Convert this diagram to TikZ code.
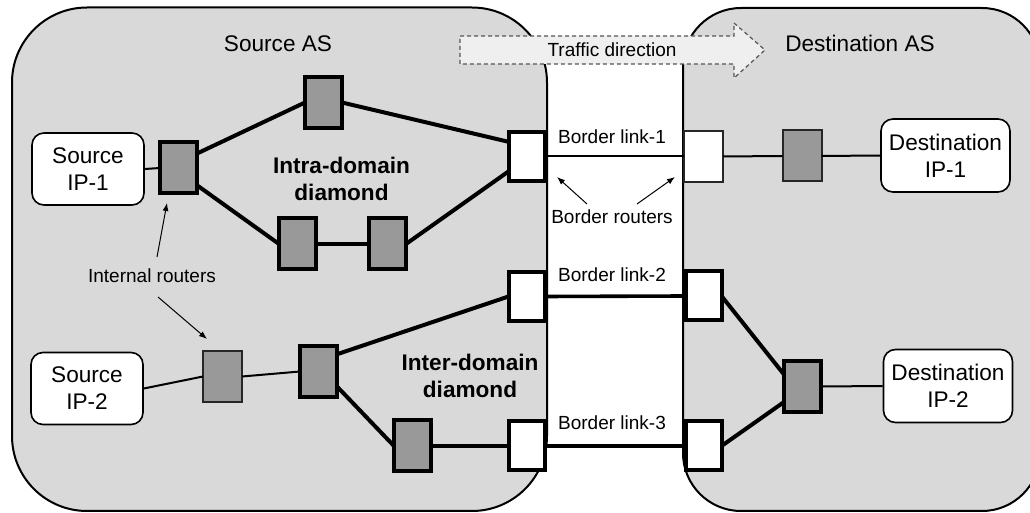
\documentclass[tikz,border=0pt]{standalone}
\usepackage{fontspec}
\setmainfont{Liberation Sans}
\usetikzlibrary{arrows.meta}
\definecolor{asfill}{HTML}{D9D9D9}
\definecolor{rtrfill}{HTML}{999999}
\definecolor{arrowfill}{HTML}{EFEFEF}
\definecolor{dashgray}{HTML}{555555}
\newcommand\biglbl{\fontsize{11.3}{13.5}\selectfont}
\newcommand\smalllbl{\fontsize{9.5}{11}\selectfont}

\begin{document}
\begin{tikzpicture}[x=0.5pt,y=-0.5pt,
  asbox/.style={fill=asfill,draw=black,line width=1pt},
  rtr/.style={rectangle,inner sep=0pt,outer sep=0pt},
  core/.style={rtr,fill=rtrfill,draw=black,line width=2pt,minimum width=18.5pt,minimum height=25.5pt},
  corethin/.style={rtr,fill=rtrfill,draw=black!85,line width=1pt,minimum width=19.5pt,minimum height=25.5pt},
  brdr/.style={rtr,fill=white,draw=black,line width=2pt,minimum width=18pt,minimum height=24.5pt},
  brdrthin/.style={rtr,fill=white,draw=black!85,line width=1pt,minimum width=19.5pt,minimum height=25.5pt},
  ipbox/.style={rectangle,rounded corners=6pt,draw=black,line width=0.8pt,fill=white,
    align=center,inner sep=0pt,font=\biglbl},
  srcip/.style={ipbox,minimum width=56pt,minimum height=36pt},
  dstip/.style={ipbox,minimum width=64.5pt,minimum height=36.5pt},
  title/.style={font=\biglbl,inner sep=1pt},
  note/.style={font=\smalllbl,inner sep=1pt},
  boldnote/.style={font=\biglbl\bfseries,align=center,inner sep=1pt},
  thinlink/.style={line width=1pt},
  midlink/.style={line width=1.8pt},
  thicklink/.style={line width=2pt},
  ptr/.style={line width=0.5pt,-{Latex[length=4pt,width=3pt]}},
  trafficarrow/.style={fill=arrowfill,draw=dashgray,line width=0.6pt,dash pattern=on 2pt off 1.5pt}
]
\useasboundingbox (0,0) rectangle (1030,513);
\clip (0,0) rectangle (1030,513);

% the two autonomous systems
\draw[asbox,rounded corners=37.5pt] (12,7.5) rectangle (547,511);
\draw[asbox,rounded corners=29pt] (683,8) rectangle (1040,511);

% traffic direction arrow
\draw[trafficarrow] (460,36) -- (734,36) -- (734,23) -- (765,50) -- (734,78) -- (734,64) -- (460,64) -- cycle;
\node[note] (traffic) at (612,50) {Traffic direction};

% titles
\node[title] (srcas) at (278,44) {Source AS};
\node[title] (dstas) at (860,43) {Destination AS};

% end hosts
\node[srcip] (sip1) at (88,169) {Source\\IP-1};
\node[srcip] (sip2) at (87,388.5) {Source\\IP-2};
\node[dstip] (dip1) at (945.5,155.5) {Destination\\IP-1};
\node[dstip] (dip2) at (948,386) {Destination\\IP-2};

% routers of the source AS
\node[core] (r1) at (178.5,168) {};
\node[core] (r2) at (323.5,102.5) {};
\node[core] (r3) at (297.5,244) {};
\node[core] (r4) at (387.5,244) {};
\node[brdr] (b1) at (527,156.5) {};
\node[corethin] (r6) at (222.5,376.5) {};
\node[core] (r7) at (318.5,371.5) {};
\node[core] (r8) at (412.5,446) {};
\node[brdr] (b2) at (526.5,296.5) {};
\node[brdr] (b3) at (526.5,446) {};

% routers of the destination AS
\node[brdrthin] (d1) at (703.5,156.5) {};
\node[corethin] (r5) at (802,156) {};
\node[brdr] (d2) at (703.5,296) {};
\node[brdr] (d3) at (703.5,446) {};
\node[core] (r9) at (802.5,386.5) {};

% links
\draw[thinlink] (sip1.east) -- (r1.west);
\draw[thicklink] (r1.38) -- (r2.west);
\draw[thicklink] (r2.east) -- (b1.141);
\draw[thicklink] (r1.-43) -- (r3.west);
\draw[thicklink] (r3.east) -- (r4.west);
\draw[thicklink] (r4.east) -- (b1.219);

\draw[thinlink] (sip2.east) -- (r6.west);
\draw[thinlink] (r6.east) -- (r7.west);
\draw[thicklink] (r7.43) -- (b2.west);
\draw[thicklink] (r7.-39) -- (r8.west);
\draw[thicklink] (r8.east) -- (b3.west);

\draw[thinlink] (b1.east) -- (d1.west);
\draw[midlink] (b2.east) -- (d2.west);
\draw[midlink] (b3.east) -- (d3.west);

\draw[thinlink] (d1.east) -- (r5.west);
\draw[thinlink] (r5.east) -- (dip1.west);
\draw[thicklink] (d2.east) -- (r9.147);
\draw[thicklink] (d3.east) -- (r9.220);
\draw[thinlink] (r9.east) -- (dip2.west);

% annotations
\node[boldnote] (intra) at (341.5,178.5) {Intra-domain\\diamond};
\node[boldnote] (inter) at (470,376) {Inter-domain\\diamond};
\node[note] (link1) at (612,137) {Border link-1};
\node[note] (link2) at (612,275) {Border link-2};
\node[note] (link3) at (612,423) {Border link-3};
\node[note] (brlbl) at (612,217) {Border routers};
\node[note] (irlbl) at (152,276) {Internal routers};

\coordinate (ira) at (157,257);
\coordinate (irat) at (167,203);
\coordinate (irb) at (158,297);
\coordinate (irbt) at (207,339);
\coordinate (bra) at (587,204);
\coordinate (brat) at (557,177);
\coordinate (brb) at (637,204);
\coordinate (brbt) at (675,177);
\draw[ptr] (ira) -- (irat);
\draw[ptr] (irb) -- (irbt);
\draw[ptr] (bra) -- (brat);
\draw[ptr] (brb) -- (brbt);
\end{tikzpicture}
\end{document}
